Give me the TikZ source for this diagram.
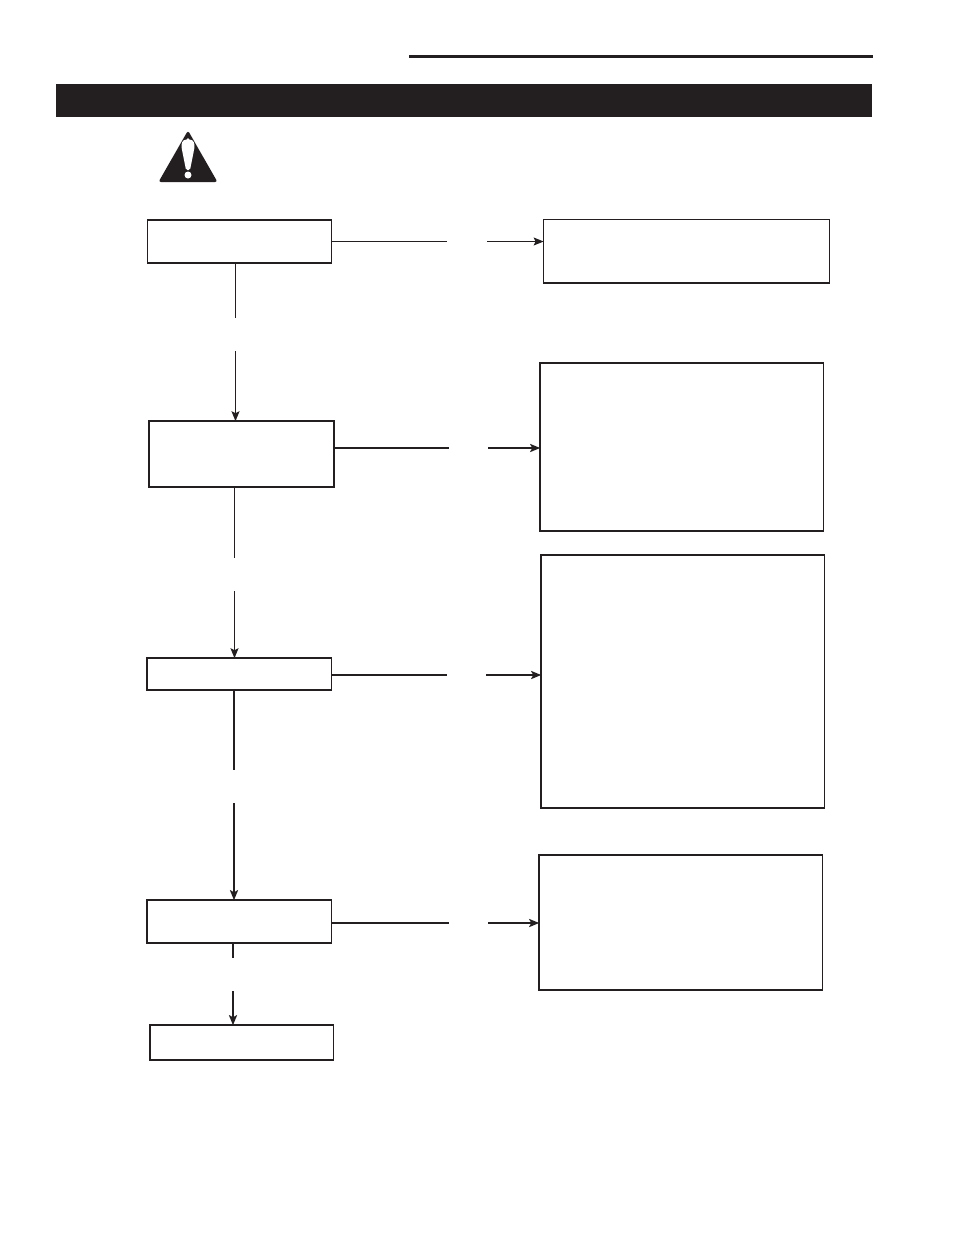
\documentclass[tikz,border=0pt]{standalone}
\usetikzlibrary{arrows.meta}
\definecolor{ink}{HTML}{231F20}
\tikzset{
  boxa/.style={draw=ink,fill=white,line width=#1,rectangle,inner sep=0pt,outer sep=0pt},
  boxa/.default=1.7pt,
  conn/.style={draw=ink,line width=#1},
  conn/.default=1.3pt,
  arrowed/.style={-{Stealth[length=10pt,width=8pt,inset=2pt]}},
}
\newcommand{\flowbox}[5]{% name, x0,y0,x1,y1 (centre line of the outline)
  \node[boxa,anchor=north west,minimum width=#4pt-#2pt,minimum height=#5pt-#3pt]
    (#1) at (#2,#3) {};}
\begin{document}
\begin{tikzpicture}[x=1pt,y=-1pt]
\useasboundingbox (0,0) rectangle (954,1235);
\fill[white] (0,0) rectangle (954,1235);
% header
\fill[ink] (409,54.5) rectangle (873,58);
\fill[ink] (56,84) rectangle (872,117);
% warning sign
\fill[ink,rounded corners=2.5pt] (188,130.5) -- (217.5,182) -- (158.5,182) -- cycle;
\fill[white,rounded corners=1.5pt] (188,139.5) .. controls (182,139.5) and (181,144) .. (182,150) -- (186,170) -- (190,170) -- (194,150) .. controls (195,144) and (194,139.5) .. (188,139.5) -- cycle;
\fill[white] (188,175) circle (3.5);
% boxes
\flowbox{A}{147.6}{219.8}{331.4}{262.8}
\flowbox{Ra}{543.6}{219.6}{829.4}{283.2}
\flowbox{B}{149.2}{421.2}{334.2}{487.2}
\flowbox{Rb}{540.2}{363.2}{823.6}{531}
\flowbox{C}{147.2}{658.2}{331.4}{690.2}
\flowbox{Rc}{541.2}{555.2}{824.6}{808}
\flowbox{D}{147.2}{900.2}{331.4}{943}
\flowbox{Rd}{539.2}{855.2}{822.6}{990.2}
\flowbox{E}{150.2}{1025.2}{333.6}{1060.2}
% free ends of the connectors
\coordinate (ab1) at (235.5,318); \coordinate (ab2) at (235.5,351);
\coordinate (bc1) at (234.5,558); \coordinate (bc2) at (234.5,591);
\coordinate (cd1) at (234,770);   \coordinate (cd2) at (234,803);
\coordinate (de1) at (233,958);   \coordinate (de2) at (233,991);
\coordinate (aa1) at (447,241.5); \coordinate (aa2) at (487,241.5);
\coordinate (bb1) at (449,448);   \coordinate (bb2) at (488,448);
\coordinate (cc1) at (447,675);   \coordinate (cc2) at (486,675);
\coordinate (dd1) at (449,923);   \coordinate (dd2) at (488,923);
% vertical connectors
\draw[conn=1.2pt] (ab1 |- A.south) -- (ab1);
\draw[conn=1.2pt,arrowed] (ab2) -- (ab2 |- B.north);
\draw[conn=1.2pt] (bc1 |- B.south) -- (bc1);
\draw[conn=1.2pt,arrowed] (bc2) -- (bc2 |- C.north);
\draw[conn=2pt] (cd1 |- C.south) -- (cd1);
\draw[conn=2pt,arrowed] (cd2) -- (cd2 |- D.north);
\draw[conn=2pt] (de1 |- D.south) -- (de1);
\draw[conn=2pt,arrowed] (de2) -- (de2 |- E.north);
% horizontal connectors
\draw[conn=1.1pt] (A.east |- aa1) -- (aa1);
\draw[conn=1.1pt,arrowed] (aa2) -- (aa2 -| Ra.west);
\draw[conn=2pt] (B.east |- bb1) -- (bb1);
\draw[conn=2pt,arrowed] (bb2) -- (bb2 -| Rb.west);
\draw[conn=2pt] (C.east |- cc1) -- (cc1);
\draw[conn=2pt,arrowed] (cc2) -- (cc2 -| Rc.west);
\draw[conn=2pt] (D.east |- dd1) -- (dd1);
\draw[conn=2pt,arrowed] (dd2) -- (dd2 -| Rd.west);
\end{tikzpicture}
\end{document}
